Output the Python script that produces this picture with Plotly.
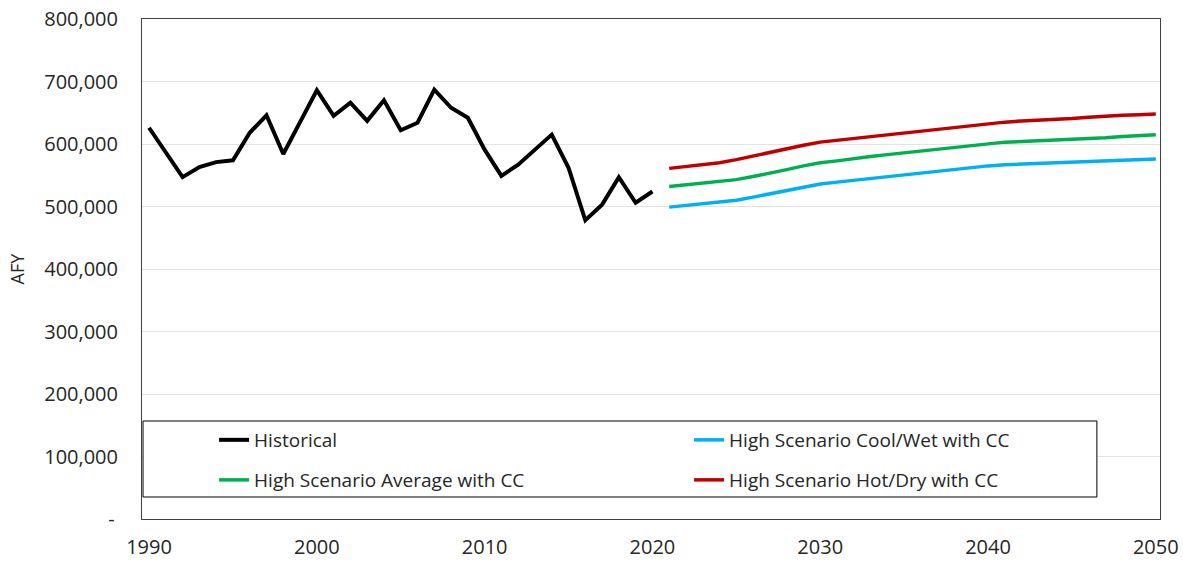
import plotly.graph_objects as go

# ---- data ----
hist_years = list(range(1990, 2021))
hist_afy = [626000, 587000, 547000, 563000, 571000, 574000, 618000, 646000, 584000, 635000,
            686000, 645000, 666000, 637000, 670000, 622000, 634000, 687000, 658000, 642000,
            591000, 549000, 567000, 591000, 615000, 562000, 478000, 503000, 547000, 506000,
            524000]

proj_years = list(range(2021, 2051))
cool_wet = [499000, 502000, 505000, 507000, 510000, 515000, 520000, 526000, 531000, 536000,
            539000, 542000, 545000, 548000, 551000, 554000, 557000, 560000, 562000, 565000,
            567000, 568000, 569000, 570000, 571000, 572000, 573000, 574000, 575000, 576000]
average = [532000, 535000, 538000, 540000, 543000, 548000, 553000, 559000, 565000, 570000,
           573000, 577000, 580000, 583000, 586000, 589000, 592000, 595000, 598000, 601000,
           603000, 604000, 605000, 607000, 608000, 609000, 610000, 612000, 613000, 615000]
hot_dry = [561000, 564000, 567000, 570000, 575000, 581000, 587000, 593000, 598000, 603000,
           606000, 609000, 612000, 615000, 618000, 621000, 624000, 627000, 630000, 633000,
           635000, 637000, 638000, 640000, 641000, 643000, 645000, 646000, 647000, 648000]

names = ["Historical", "High Scenario Cool/Wet with CC",
         "High Scenario Average with CC", "High Scenario Hot/Dry with CC"]

y_tickvals = [0, 100000, 200000, 300000, 400000, 500000, 600000, 700000, 800000]
y_ticktext = ["-\u2009", "100,000", "200,000", "300,000", "400,000", "500,000",
              "600,000", "700,000", "800,000"]
x_tickvals = [1990, 2000, 2010, 2020, 2030, 2040, 2050]

# ---- figure ----
FONT = "Open Sans, DejaVu Sans, sans-serif"
fig = go.Figure()
fig.add_trace(go.Scatter(x=hist_years, y=hist_afy, mode="lines", name=names[0],
                         line=dict(color="#000000", width=4), legend="legend"))
fig.add_trace(go.Scatter(x=proj_years, y=cool_wet, mode="lines", name=names[1],
                         line=dict(color="#00B0F0", width=3.5), legend="legend2"))
fig.add_trace(go.Scatter(x=proj_years, y=average, mode="lines", name=names[2],
                         line=dict(color="#00B050", width=3.5), legend="legend3"))
fig.add_trace(go.Scatter(x=proj_years, y=hot_dry, mode="lines", name=names[3],
                         line=dict(color="#C00000", width=3.5), legend="legend4"))

# legend frame
fig.add_shape(type="rect", xref="paper", yref="paper", x0=0.001, x1=0.938, y0=0.044, y1=0.196,
              line=dict(color="#000000", width=1), fillcolor="white", layer="above")

legend_common = dict(orientation="h", xanchor="left", yanchor="middle",
                     bgcolor="rgba(0,0,0,0)", borderwidth=0,
                     font=dict(family=FONT, size=19, color="#262626"),
                     itemclick=False, itemdoubleclick=False)
col1_x, col2_x = 0.0708, 0.5374
row1_y, row2_y = 0.158, 0.078

fig.update_layout(
    width=1183, height=561,
    margin=dict(l=142, r=23, t=19, b=42),
    paper_bgcolor="white", plot_bgcolor="white",
    font=dict(family=FONT, size=20, color="#262626"),
    showlegend=True,
    legend=dict(x=col1_x, y=row1_y, **legend_common),
    legend2=dict(x=col2_x, y=row1_y, **legend_common),
    legend3=dict(x=col1_x, y=row2_y, **legend_common),
    legend4=dict(x=col2_x, y=row2_y, **legend_common),
    xaxis=dict(range=[1989.58, 2050.25], tickvals=x_tickvals, showgrid=False, zeroline=False,
               showline=True, mirror=True, linecolor="#404040", linewidth=1, automargin=False,
               ticklabeloverflow="allow",
               ticks="", ticklabelstandoff=10, tickfont=dict(family=FONT, size=20, color="#262626")),
    yaxis=dict(range=[0, 800000], tickvals=y_tickvals, ticktext=y_ticktext,
               showgrid=True, gridcolor="#e3e3e3", gridwidth=1, zeroline=False,
               showline=True, mirror=True, linecolor="#404040", linewidth=1, automargin=False,
               ticklabeloverflow="allow",
               ticks="", ticklabelstandoff=19, tickfont=dict(family=FONT, size=20, color="#262626")),
)
fig.update_yaxes(title=dict(text="AFY", font=dict(family=FONT, size=18, color="#262626"), standoff=14))

# remove the default page margin so the figure fills the window exactly
fig.write_html("out.html", config={"displayModeBar": False},
               post_script="document.body.style.margin='0';")
